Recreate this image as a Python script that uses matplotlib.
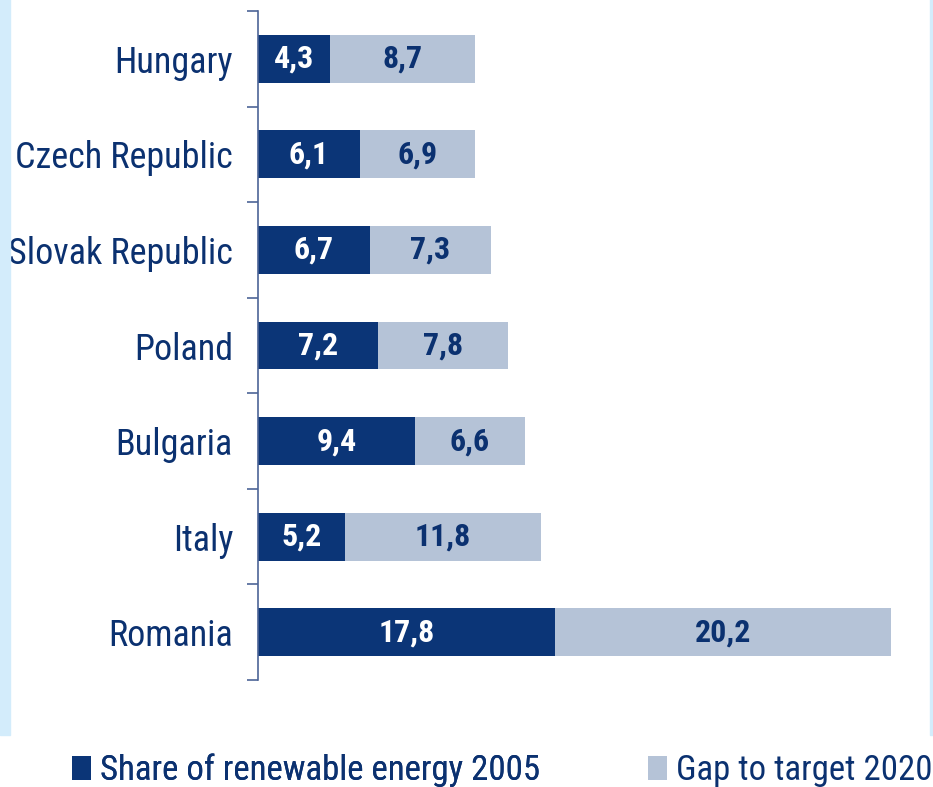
import matplotlib.pyplot as plt
import matplotlib.patches as mpatches
import numpy as np

countries = ["Hungary", "Czech Republic", "Slovak Republic", "Poland",
             "Bulgaria", "Italy", "Romania"]
share_2005 = [4.3, 6.1, 6.7, 7.2, 9.4, 5.2, 17.8]
gap_2020 = [8.7, 6.9, 7.3, 7.8, 6.6, 11.8, 20.2]

dark = "#0b3577"
light = "#b5c3d7"
txt = "#0b3170"
plt.rcParams["font.family"] = ["Roboto Condensed", "DejaVu Sans"]

fig = plt.figure(figsize=(9.33, 7.87), dpi=100)
# light blue side strips
fig.patches.append(mpatches.Rectangle((0, 52 / 787), 10 / 933, 1, transform=fig.transFigure,
                                      color="#d3ecfb", zorder=0))
fig.patches.append(mpatches.Rectangle((930 / 933, 52 / 787), 3 / 933, 1, transform=fig.transFigure,
                                      color="#d3ecfb", zorder=0))

ax = fig.add_axes([258 / 933, 107 / 787, 675 / 933, 669 / 787])
ax.patch.set_alpha(0)
y = np.arange(len(countries))
b1 = ax.barh(y, share_2005, height=0.5, color=dark, label="Share of renewable energy 2005")
b2 = ax.barh(y, gap_2020, left=share_2005, height=0.5, color=light, label="Gap to target 2020")

ax.set_xlim(0, 675 / 16.66)
ax.set_ylim(len(countries) - 0.5, -0.5)

for i in range(len(countries)):
    ax.text(share_2005[i] / 2, y[i], f"{share_2005[i]:.1f}".replace(".", ","),
            ha="center", va="center", color="white", fontsize=23, fontweight="bold")
    ax.text(share_2005[i] + gap_2020[i] / 2, y[i], f"{gap_2020[i]:.1f}".replace(".", ","),
            ha="center", va="center", color=txt, fontsize=23, fontweight="bold")

for s in ["top", "right", "bottom"]:
    ax.spines[s].set_visible(False)
ax.spines["left"].set_color("#4d6597")
ax.spines["left"].set_linewidth(1.2)
ax.set_xticks([])
ax.set_yticks(y)
ax.set_yticklabels(countries, fontsize=26, color=txt)
ax.tick_params(axis="y", which="major", length=0, pad=18)
ax.set_yticks(np.arange(-0.5, len(countries)), minor=True)
ax.tick_params(axis="y", which="minor", length=8, width=1.2, color="#4d6597", direction="out")

leg_kw = dict(loc="lower left", frameon=False, fontsize=25, labelcolor=txt,
              handlelength=0.55, handleheight=0.7, handletextpad=0.25,
              borderpad=0, borderaxespad=0)
leg1 = fig.legend(handles=[b1], bbox_to_anchor=(72 / 933, 0), **leg_kw)
fig.add_artist(leg1)
fig.legend(handles=[b2], bbox_to_anchor=(648 / 933, 0), **leg_kw)

fig.savefig("out.png", dpi=100)
